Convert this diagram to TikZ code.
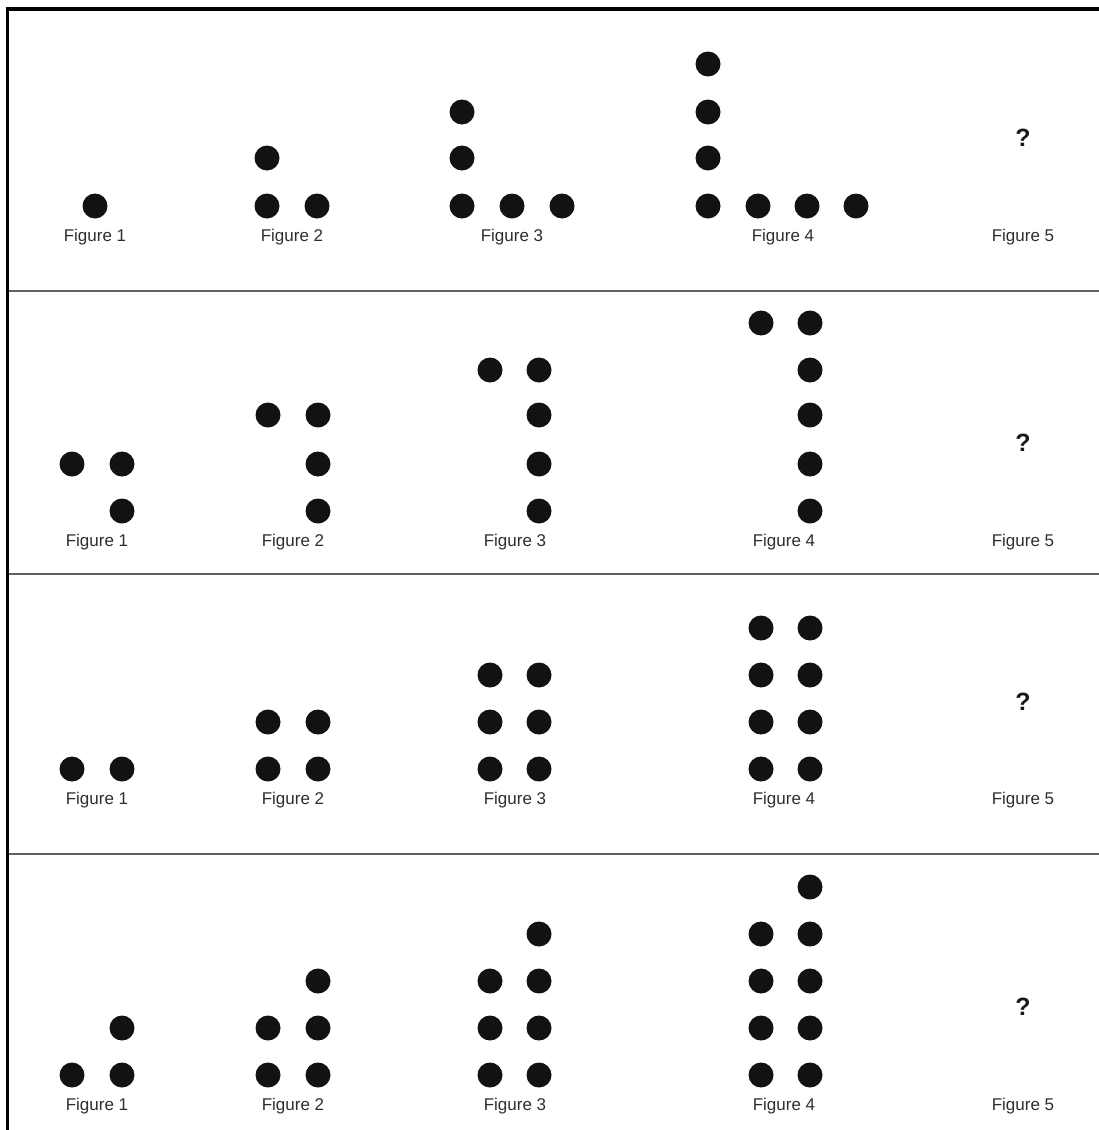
\documentclass[tikz,border=0pt]{standalone}
\usepackage{fontspec}
\setmainfont{Liberation Sans}
\begin{document}
\begin{tikzpicture}[x=1pt,y=-1pt,
  dot/.style={circle,fill=black!93,inner sep=0pt,minimum size=25pt},
  lbl/.style={font=\fontsize{17}{17}\selectfont,text=black!82,inner sep=0pt,anchor=base},
  qm/.style={font=\bfseries\fontsize{25}{25}\selectfont,text=black!90,inner sep=0pt},
  sep/.style={draw=black!62,line width=2pt}]
\useasboundingbox (0,0) rectangle (1099,1130);
% frame
\draw[line width=3.5pt,black] (7.5,1135) -- (7.5,9) -- (1105,9);
\coordinate (s1l) at (9,291); \coordinate (s1r) at (1099,291);
\coordinate (s2l) at (9,574); \coordinate (s2r) at (1099,574);
\coordinate (s3l) at (9,854); \coordinate (s3r) at (1099,854);
\draw[sep] (s1l) -- (s1r);
\draw[sep] (s2l) -- (s2r);
\draw[sep] (s3l) -- (s3r);
% row 1
\foreach \x/\y [count=\i] in {95/206,
  267/158,267/206,317/206,
  462/112,462/158,462/206,512/206,562/206,
  708/64,708/112,708/158,708/206,758/206,807/206,856/206}
  \node[dot] (a\i) at (\x,\y) {};
\node[qm] (aq) at (1023,138) {?};
\foreach \x/\n in {95/1,292/2,512/3,783/4,1023/5}
  \node[lbl] (al\n) at (\x,241) {Figure \n};
% row 2
\foreach \x/\y [count=\i] in {72/464,122/464,122/511,
  268/415,318/415,318/464,318/511,
  490/370,539/370,539/415,539/464,539/511,
  761/323,810/323,810/370,810/415,810/464,810/511}
  \node[dot] (b\i) at (\x,\y) {};
\node[qm] (bq) at (1023,443) {?};
\foreach \x/\n in {97/1,293/2,515/3,784/4,1023/5}
  \node[lbl] (bl\n) at (\x,546) {Figure \n};
% row 3
\foreach \x/\y [count=\i] in {72/769,122/769,
  268/722,318/722,268/769,318/769,
  490/675,539/675,490/722,539/722,490/769,539/769,
  761/628,810/628,761/675,810/675,761/722,810/722,761/769,810/769}
  \node[dot] (c\i) at (\x,\y) {};
\node[qm] (cq) at (1023,702) {?};
\foreach \x/\n in {97/1,293/2,515/3,784/4,1023/5}
  \node[lbl] (cl\n) at (\x,804) {Figure \n};
% row 4
\foreach \x/\y [count=\i] in {122/1028,72/1075,122/1075,
  318/981,268/1028,318/1028,268/1075,318/1075,
  539/934,490/981,539/981,490/1028,539/1028,490/1075,539/1075,
  810/887,761/934,810/934,761/981,810/981,761/1028,810/1028,761/1075,810/1075}
  \node[dot] (d\i) at (\x,\y) {};
\node[qm] (dq) at (1023,1007) {?};
\foreach \x/\n in {97/1,293/2,515/3,784/4,1023/5}
  \node[lbl] (dl\n) at (\x,1110) {Figure \n};
\end{tikzpicture}
\end{document}
